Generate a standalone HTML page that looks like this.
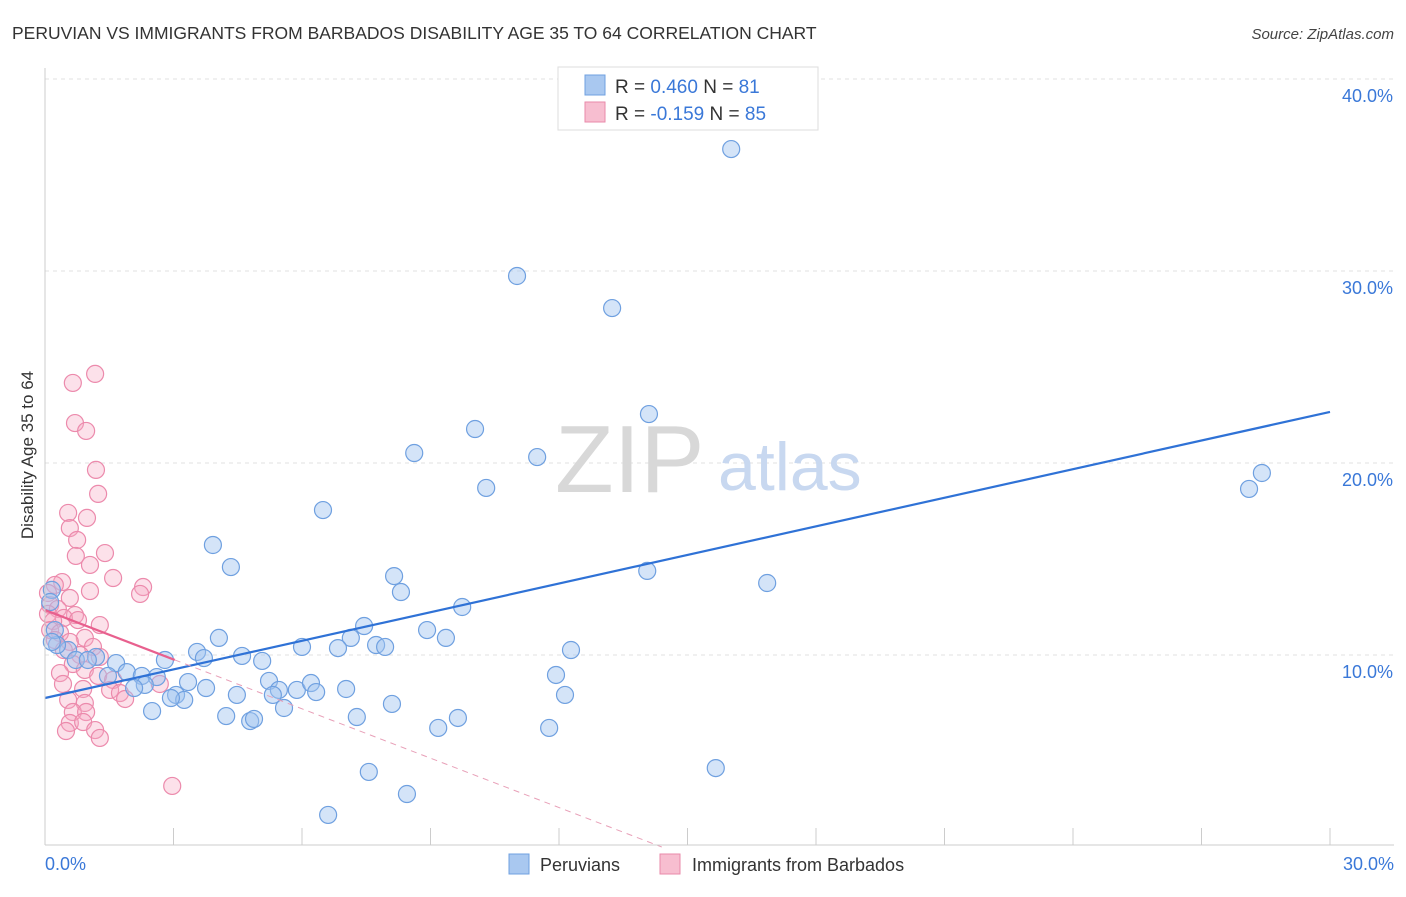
<!DOCTYPE html>
<html><head><meta charset="utf-8">
<style>
body{margin:0;background:#fff;font-family:"Liberation Sans",sans-serif;}
svg text{font-family:"Liberation Sans",sans-serif;}
</style></head>
<body>
<svg id="chart" width="1406" height="892" viewBox="0 0 1406 892" xmlns="http://www.w3.org/2000/svg">
<text x="12" y="39" font-size="17.5" fill="#333">PERUVIAN VS IMMIGRANTS FROM BARBADOS DISABILITY AGE 35 TO 64 CORRELATION CHART</text>
<text x="1394" y="39" font-size="15" fill="#444" text-anchor="end" font-style="italic">Source: ZipAtlas.com</text>
<g id="grid"></g>
<g>
<text x="555" y="492" font-size="96" fill="#d8d8d8" font-family="Liberation Serif, serif">ZIP</text>
<text x="718" y="490" font-size="68" fill="#c8d8f0">atlas</text>
</g>
<text transform="translate(33,455) rotate(-90)" font-size="17" fill="#333" text-anchor="middle">Disability Age 35 to 64</text>
<g id="pts"></g>
<g id="trends"></g>
<g id="axes"></g>
<g>
<rect x="558" y="67" width="260" height="63" fill="#fff" stroke="#ddd"/>
<rect x="585" y="75" width="20" height="20" fill="#a9c8f0" stroke="#6fa0e0"/>
<text x="615" y="93" font-size="19" fill="#333">R = <tspan fill="#3a78d8">0.460</tspan>   N = <tspan fill="#3a78d8">81</tspan></text>
<rect x="585" y="102" width="20" height="20" fill="#f7bed0" stroke="#e88aaa"/>
<text x="615" y="120" font-size="19" fill="#333">R = <tspan fill="#3a78d8">-0.159</tspan>   N = <tspan fill="#3a78d8">85</tspan></text>
</g>
<g>
<rect x="509" y="854" width="20" height="20" fill="#a9c8f0" stroke="#6fa0e0"/>
<text x="540" y="871" font-size="18" fill="#333">Peruvians</text>
<rect x="660" y="854" width="20" height="20" fill="#f7bed0" stroke="#e88aaa"/>
<text x="692" y="871" font-size="18" fill="#333">Immigrants from Barbados</text>
</g>
</svg>
<script>
const blueX=[16.02,11.02,13.24,14.10,10.04,8.62,11.49,10.30,28.41,28.11,6.49,3.92,4.34,14.06,16.86,8.15,8.31,9.74,7.45,8.92,9.36,4.06,7.14,6.00,6.84,7.73,7.94,12.28,4.60,5.07,3.55,2.80,3.71,1.19,0.54,0.28,0.72,1.00,1.66,1.91,1.47,2.26,2.61,2.33,2.08,3.34,3.06,3.76,5.23,5.46,5.88,6.21,6.33,7.03,4.48,5.32,3.25,2.94,2.50,5.58,8.10,11.93,12.14,4.23,4.79,4.88,7.28,9.64,9.18,11.77,15.66,7.56,8.45,6.61,0.16,0.12,0.23,0.16];
const blueY=[36.35,29.74,28.07,22.55,21.77,20.52,20.31,18.70,19.48,18.65,17.55,15.73,14.58,14.38,13.75,14.11,13.28,12.50,11.51,11.30,10.89,10.89,10.89,10.42,10.36,10.52,10.42,10.26,9.95,9.69,10.16,9.74,9.84,9.90,10.26,10.52,9.74,9.74,9.58,9.11,8.91,8.91,8.85,8.44,8.28,8.59,7.92,8.28,8.65,8.18,8.18,8.54,8.07,8.23,7.92,7.92,7.66,7.76,7.08,7.24,7.45,8.96,7.92,6.82,6.56,6.67,6.77,6.72,6.20,6.20,4.11,3.91,2.76,1.67,13.39,12.76,11.30,10.68];
const pinkX=[1.17,0.65,0.70,0.96,1.19,1.24,0.54,0.98,0.58,0.75,1.40,0.72,1.05,1.59,0.40,2.29,0.23,1.05,2.22,0.07,0.58,0.12,0.30,0.70,0.07,0.44,0.19,0.77,1.28,0.12,0.35,0.93,0.23,0.58,1.12,0.44,0.82,1.28,0.65,0.93,0.35,1.24,1.59,0.42,1.52,1.75,0.89,0.54,0.93,1.87,2.68,0.65,0.96,0.58,0.89,1.17,0.49,1.28,2.97];
const pinkY=[24.64,24.17,22.08,21.67,19.64,18.39,17.40,17.14,16.61,15.99,15.31,15.16,14.69,14.01,13.80,13.54,13.65,13.33,13.18,13.23,12.97,12.60,12.40,12.08,12.14,11.93,11.77,11.82,11.56,11.30,11.15,10.89,10.78,10.68,10.42,10.26,10.00,9.90,9.53,9.22,9.06,8.91,8.70,8.49,8.18,8.02,8.23,7.66,7.50,7.71,8.49,7.03,7.03,6.46,6.51,6.09,6.04,5.68,3.18];
const blueTrend=[7.76,22.66];
const pinkTrend=[12.34,-0.857];
const yTicks=[10,20,30,40];
const yTickLabels=["10.0%","20.0%","30.0%","40.0%"];
const xTickLabels=["0.0%","30.0%"];

const X0=45,X1=1330,XMAX=30,Y0=847,PPY=19.2;
const sx=v=>X0+(v/XMAX)*(X1-X0);
const sy=v=>Y0-v*PPY;
const NS="http://www.w3.org/2000/svg";
function mk(tag,attrs,parent){const e=document.createElementNS(NS,tag);for(const k in attrs)e.setAttribute(k,attrs[k]);parent.appendChild(e);return e;}
const grid=document.getElementById('grid'),axes=document.getElementById('axes'),pts=document.getElementById('pts'),tr=document.getElementById('trends');
[...yTicks].forEach((t,i)=>{
 const l=mk('line',{x1:X0,x2:1394,y1:sy(t),y2:sy(t),stroke:'#e0e0e0','stroke-dasharray':'4,4'},grid);
 
 
 const tx=mk('text',{x:1393,y:sy(t)+23,'font-size':18,fill:'#3a78d8','text-anchor':'end'},axes);
 tx.textContent=yTickLabels[i];
 
 
});
const ax=mk('line',{x1:X0,x2:1394,y1:845,y2:845,stroke:'#ccc'},axes);


const ay=mk('line',{x1:X0,x2:X0,y1:68,y2:845,stroke:'#ccc'},axes);


for(let i=0;i<=10;i++){const x=sx(i*3);const t=mk('line',{x1:x,x2:x,y1:828,y2:845,stroke:'#ccc'},axes);
 
 }
const xl0=mk('text',{x:45,y:870,'font-size':18,fill:'#3a78d8'},axes);xl0.textContent=xTickLabels[0];


const xl1=mk('text',{x:1394,y:870,'font-size':18,fill:'#3a78d8','text-anchor':'end'},axes);xl1.textContent=xTickLabels[1];


pinkX.forEach((v,i)=>{const c=mk('circle',{cx:sx(v),cy:sy(pinkY[i]),r:8.5,fill:'rgba(245,170,195,0.35)',stroke:'#ec8aac','stroke-width':1.2},pts);
 
 });
blueX.forEach((v,i)=>{const c=mk('circle',{cx:sx(v),cy:sy(blueY[i]),r:8.5,fill:'rgba(160,195,240,0.45)',stroke:'#6fa0e0','stroke-width':1.2},pts);
 
 });
const bl=mk('line',{x1:sx(0),y1:sy(blueTrend[0]),x2:sx(30),y2:sy(blueTrend[1]),stroke:'#2f72d6','stroke-width':2.2},tr);


const pEnd=3.03,zero=-pinkTrend[0]/pinkTrend[1];
const pl=mk('line',{x1:sx(0),y1:sy(pinkTrend[0]),x2:sx(pEnd),y2:sy(pinkTrend[0]+pinkTrend[1]*pEnd),stroke:'#e8608e','stroke-width':2.2},tr);


const pd=mk('line',{x1:sx(pEnd),y1:sy(pinkTrend[0]+pinkTrend[1]*pEnd),x2:sx(zero),y2:sy(0),stroke:'#e8a0b8','stroke-width':1,'stroke-dasharray':'6,5'},tr);


</script>
</body></html>
